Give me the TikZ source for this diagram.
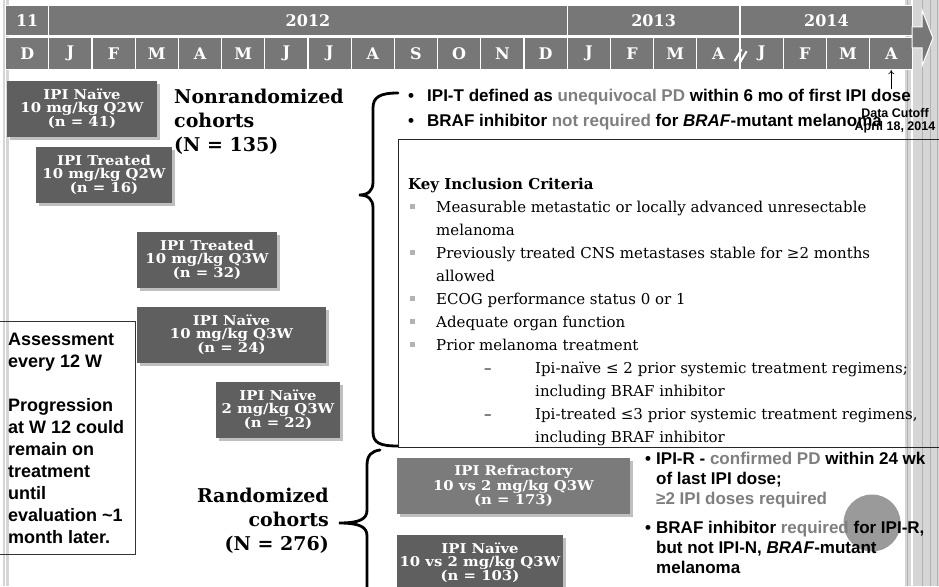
\documentclass[tikz,border=0pt]{standalone}
\usepackage{fontspec}
\setmainfont{DejaVu Serif}
\setsansfont{Liberation Sans}
\newfontfamily\boxserif{DejaVu Serif}[FakeStretch=1.1]
\usepackage{xcolor}
\usepackage{tikz}
\usetikzlibrary{arrows.meta,calc,positioning,shadows}
\definecolor{tlGray}{HTML}{777777}
\definecolor{ckDark}{HTML}{5F5F5F}
\definecolor{ckMid}{HTML}{7B7B7B}
\definecolor{ckText}{HTML}{7F7F7F}
\definecolor{ckStripe}{HTML}{D6D6D6}
\definecolor{ckBullet}{HTML}{B3B3B3}
\definecolor{ckDot}{HTML}{9A9A9A}

\tikzset{
  tlcell/.style={draw=white, line width=1.2pt, fill=tlGray, text=white, inner sep=0pt,
    font=\bfseries\fontsize{16}{16}\selectfont, anchor=north west},
  cohort/.style={fill=ckDark, text=white, align=center, inner sep=0pt,
    font=\boxserif\bfseries\fontsize{13.5}{13}\selectfont,
    drop shadow={opacity=0.5, shadow xshift=2.5pt, shadow yshift=-2.5pt}},
  grouplabel/.style={font=\bfseries\fontsize{19}{24}\selectfont, inner sep=0pt},
  brace/.style={line width=2.8pt, line cap=round},
  sanstext/.style={font=\sffamily\bfseries\fontsize{17}{20}\selectfont, inner sep=0pt},
  crit/.style={font=\fontsize{15}{18}\selectfont, inner sep=0pt, anchor=base west}
}

\begin{document}
\begin{tikzpicture}[x=1pt, y=-1pt]
  \useasboundingbox (0,0) rectangle (939,586);
  \clip (0,0) rectangle (939,586);
  \fill[white] (0,0) rectangle (939,586);

  % slide stripes
  \fill[ckStripe] (3,0) rectangle (9,586);
  \draw[white, line width=1pt] (5.5,0) -- (5.5,586);
  \fill[ckStripe] (905,0) rectangle (939,586);
  \draw[white, line width=2pt] (912,0) -- (912,586);
  \foreach \x in {907,922,930,937}
    \draw[gray!60, line width=0.8pt] (\x,0) -- (\x,586);

  % timeline
  \node[tlcell, minimum width=43.2pt, minimum height=30pt] (y11) at (5,5) {11};
  \node[tlcell, minimum width=518.4pt, minimum height=30pt] (y2012) at (48.2,5) {2012};
  \node[tlcell, minimum width=172.8pt, minimum height=30pt] (y2013) at (566.6,5) {2013};
  \node[tlcell, minimum width=172.8pt, minimum height=30pt] (y2014) at (739.4,5) {2014};
  \foreach \m [count=\i from 0] in {D,J,F,M,A,M,J,J,A,S,O,N,D,J,F,M,A,J,F,M,A}
    \node[tlcell, minimum width=43.2pt, minimum height=32pt] (m\i) at ({5+43.2*\i},37) {\m};
  \draw[white, line width=2pt] ($(m16.south east)+(-6,-9)$) -- ++(7,-12)
    ($(m16.south east)+(-1,-7)$) -- ++(7,-12);
  \draw[white, line width=1pt, fill=tlGray] (912,27) -- (922,27) -- (922,10)
    -- (933,38) -- (922,66) -- (922,48) -- (912,48) -- cycle;

  % cohort boxes
  \node[cohort, minimum width=150pt, minimum height=56pt] (naive41) at (82,109)
    {IPI Naïve\\10 mg/kg Q2W\\(n = 41)};
  \node[cohort, minimum width=136pt, minimum height=56pt] (treated16) at (104,175)
    {IPI Treated\\10 mg/kg Q2W\\(n = 16)};
  \node[cohort, minimum width=140pt, minimum height=56pt] (treated32) at (207,260)
    {IPI Treated\\10 mg/kg Q3W\\(n = 32)};
  \node[cohort, minimum width=189pt, minimum height=56pt] (naive24) at (231.5,335)
    {IPI Naïve\\10 mg/kg Q3W\\(n = 24)};
  \node[cohort, minimum width=124pt, minimum height=56pt] (naive22) at (278,410)
    {IPI Naïve\\2 mg/kg Q3W\\(n = 22)};
  \node[cohort, fill=ckMid, minimum width=233pt, minimum height=56pt] (refr173) at (513.5,486)
    {IPI Refractory\\10 vs 2 mg/kg Q3W\\(n = 173)};
  \node[cohort, minimum width=166pt, minimum height=56pt] (naive103) at (480,563)
    {IPI Naïve\\10 vs 2 mg/kg Q3W\\(n = 103)};

  % group labels
  \node[grouplabel, anchor=north west, align=left] (nonrand) at (174,89)
    {Nonrandomized\\cohorts\\(N = 135)};
  \node[grouplabel, anchor=east, align=right] (rand) at (329,521)
    {Randomized\\cohorts\\(N = 276)};

  % braces
  \draw[brace] (398,93) .. controls (380,93) and (373,97) .. (373,108) -- (373,182)
    .. controls (373,191) and (368,195) .. (359,195)
    .. controls (368,195) and (373,199) .. (373,208) -- (373,432)
    .. controls (373,443) and (380,446) .. (398,446);
  \draw[brace] (380,450) .. controls (372,451) and (367,455) .. (367,465) -- (367,510)
    .. controls (367,519) and (360,523) .. (339,523)
    .. controls (360,523) and (367,527) .. (367,536) -- (367,600);

  % assessment note
  \node[draw=black!80, line width=0.8pt, minimum width=150pt, minimum height=233pt,
    anchor=north east] (assessbox) at (136,321) {};
  \node[sanstext, font=\sffamily\bfseries\fontsize{18}{22}\selectfont, align=left,
    anchor=north west] (assess) at (8,333)
    {Assessment\\every 12 W\\[22pt]Progression\\at W 12 could\\remain on\\treatment\\until\\evaluation \textasciitilde1\\month later.};

  % nonrandomized definitions
  \node[sanstext, anchor=base west] (ipit) at (408,101)
    {\makebox[19pt][l]{\textbullet}IPI-T defined as \textcolor{ckText}{unequivocal PD} within 6 mo of first IPI dose};
  \node[sanstext, anchor=base west] (brafnr) at (408,126)
    {\makebox[19pt][l]{\textbullet}BRAF inhibitor \textcolor{ckText}{not required} for \textit{BRAF}-mutant melanoma};

  % key inclusion criteria
  \node[draw=black!85, line width=0.8pt, minimum width=560pt, minimum height=308pt,
    anchor=north west] (keybox) at (398,139) {};
  \node[crit, font=\bfseries\fontsize{15}{18}\selectfont] (kichead) at (408,189) {Key Inclusion Criteria};
  \foreach \x/\y/\t [count=\i] in {
    436/207/{Measurable metastatic or locally advanced unresectable},
    436/230/{melanoma},
    436/253/{Previously treated CNS metastases stable for ≥2 months},
    436/276/{allowed},
    436/299/{ECOG performance status 0 or 1},
    436/322/{Adequate organ function},
    436/345/{Prior melanoma treatment},
    484/368/{–},
    535/368/{Ipi-naïve ≤ 2  prior systemic treatment regimens;},
    535/391/{including BRAF inhibitor},
    484/414/{–},
    535/414/{Ipi-treated ≤3 prior systemic treatment regimens,},
    535/437/{including BRAF inhibitor}
  } {
    \node[crit] (crit\i) at (\x,\y+5) {\t};
  }
  \foreach \y in {207,253,299,322,345}
    \fill[ckBullet] (410,\y-3) rectangle ++(5,5);

  % randomized definitions
  \node[circle, fill=ckDot, minimum size=57pt, inner sep=0pt] (dot) at (872,523) {};
  \node[sanstext, anchor=base west] (ipir) at (645,464)
    {\begin{tabular}[t]{@{}p{11pt}@{}l@{}}
      \textbullet & IPI-R - \textcolor{ckText}{confirmed PD} within 24 wk\\
      & of last IPI dose;\\
      & \textcolor{ckText}{≥2 IPI doses required}
    \end{tabular}};
  \node[sanstext, anchor=base west] (brafr) at (645,533)
    {\begin{tabular}[t]{@{}p{11pt}@{}l@{}}
      \textbullet & BRAF inhibitor \textcolor{ckText}{required} for IPI-R,\\
      & but not IPI-N, \textit{BRAF}-mutant\\
      & melanoma
    \end{tabular}};

  % data cutoff
  \node[font=\sffamily\bfseries\fontsize{12.5}{12.5}\selectfont, align=center, inner sep=0pt]
    (cutoff) at (895,121) {Data Cutoff\\April 18, 2014};
  \coordinate (cutbase) at ($(m20.south)+(0,19)$);
  \draw[-{To[length=4pt,width=6pt]}, line width=0.6pt] (cutbase) -- (m20.south);
\end{tikzpicture}
\end{document}
